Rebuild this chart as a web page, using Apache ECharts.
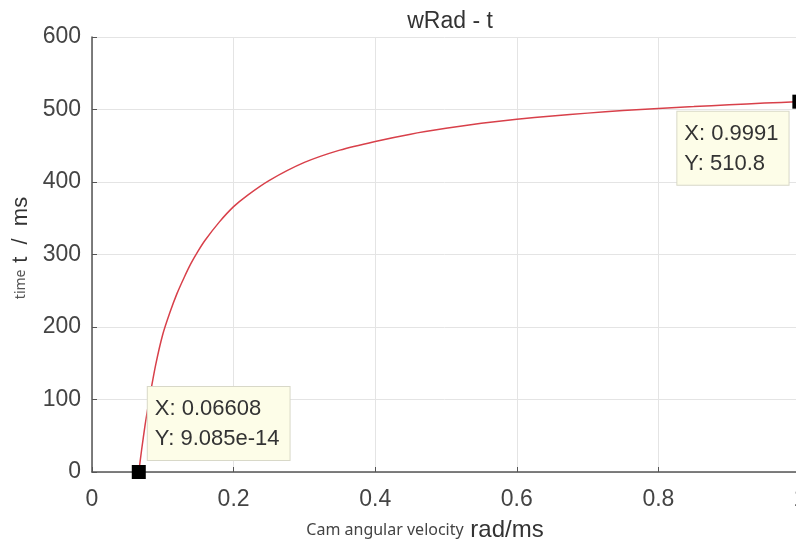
<!DOCTYPE html>
<html>
<head>
<meta charset="utf-8">
<script src="https://cdn.jsdelivr.net/npm/echarts@6/dist/echarts.min.js"></script>
<style>
html, body { margin: 0; padding: 0; background: #fff; }
#main { width: 796px; height: 543px; }
</style>
</head>
<body>
<div id="main"></div>
<script>
// 角速度 wRad (rad/ms) 与时间 t (ms) 的关系
var wRad = [0.06608, 0.07, 0.075, 0.08, 0.09, 0.10, 0.11, 0.12, 0.13, 0.14, 0.15, 0.16, 0.18, 0.2,
    0.22, 0.25, 0.3, 0.35, 0.4, 0.45, 0.5, 0.55, 0.6, 0.65, 0.7, 0.75, 0.8, 0.85, 0.9, 0.95, 0.9991];
var tMs = [0, 30, 65, 95, 148, 190, 220, 246, 268, 288, 305, 320, 345, 366,
    382, 402, 427, 444, 456, 466, 474, 481, 486.5, 491, 495, 498.5, 501.5, 504, 506.5, 508.8, 510.8];
var xTicks = [0, 0.2, 0.4, 0.6, 0.8, 1];
var yTicks = [0, 100, 200, 300, 400, 500, 600];

var fontMain = 'Liberation Sans, Arial, sans-serif';
var fontSmall = 'Noto Sans, Open Sans, sans-serif';

var tipStyle = {
    show: true,
    backgroundColor: '#fdfde8',
    borderColor: '#d8d8c8',
    borderWidth: 1,
    padding: [7, 10, 6, 7],
    color: '#333',
    fontSize: 22,
    lineHeight: 30,
    fontFamily: fontMain
};

var lineData = [];
for (var i = 0; i < wRad.length; i++) {
    lineData.push([wRad[i], tMs[i]]);
}
var first = lineData[0];
var last = lineData[lineData.length - 1];

var myChart = echarts.init(document.getElementById('main'));

var option = {
    backgroundColor: '#fff',
    animation: false,
    title: {
        text: 'wRad - t',
        left: 445,
        textAlign: 'center',
        top: 5,
        textStyle: {
            fontSize: 23,
            fontWeight: 'normal',
            color: '#333',
            fontFamily: fontMain
        }
    },
    grid: {
        left: 92,
        right: -4,
        top: 37,
        bottom: 71,
        outerBoundsMode: 'none'
    },
    xAxis: {
        type: 'value',
        min: xTicks[0],
        max: xTicks[xTicks.length - 1],
        interval: 0.2,
        name: '{s|Cam angular velocity}  {b|rad/ms}',
        nameLocation: 'middle',
        nameGap: 46,
        nameTextStyle: {
            padding: [0, 42, 0, 0],
            rich: {
                s: { fontSize: 16, color: '#444', fontFamily: fontSmall },
                b: { fontSize: 24, color: '#333', fontFamily: fontMain }
            }
        },
        axisLine: { show: true, lineStyle: { color: '#555', width: 1.5 } },
        axisTick: { show: true, inside: true, length: 5, lineStyle: { color: '#555' } },
        axisLabel: {
            fontSize: 23,
            color: '#444',
            margin: 16,
            fontFamily: fontMain
        },
        splitLine: { show: true, lineStyle: { color: '#e4e4e4' } }
    },
    yAxis: {
        type: 'value',
        min: yTicks[0],
        max: yTicks[yTicks.length - 1],
        interval: 100,
        name: '{s|time}  {b|t  /  ms}',
        nameLocation: 'middle',
        nameGap: 58,
        nameRotate: 90,
        nameTextStyle: {
            padding: [0, 0, 0, 13],
            rich: {
                s: { fontSize: 14, color: '#555', fontFamily: fontSmall },
                b: { fontSize: 22, color: '#333', fontFamily: fontMain }
            }
        },
        axisLine: { show: true, lineStyle: { color: '#555', width: 1.5 } },
        axisTick: { show: true, inside: true, length: 5, lineStyle: { color: '#555' } },
        axisLabel: {
            fontSize: 23,
            color: '#444',
            margin: 11,
            fontFamily: fontMain
        },
        splitLine: { show: true, lineStyle: { color: '#e4e4e4' } }
    },
    series: [{
        type: 'line',
        smooth: 0.2,
        showSymbol: false,
        lineStyle: { color: '#d8404a', width: 1.5 },
        data: lineData
    }, {
        type: 'scatter',
        symbol: 'rect',
        symbolSize: 14,
        itemStyle: { color: '#000', opacity: 1 },
        z: 5,
        data: [{
            value: first,
            label: Object.assign({}, tipStyle, {
                position: [16, -78],
                formatter: 'X: 0.06608\nY: 9.085e-14'
            })
        }, {
            value: last,
            label: Object.assign({}, tipStyle, {
                position: [-115, 17],
                formatter: 'X: 0.9991\nY: 510.8'
            })
        }]
    }]
};

myChart.setOption(option);
</script>
</body>
</html>
